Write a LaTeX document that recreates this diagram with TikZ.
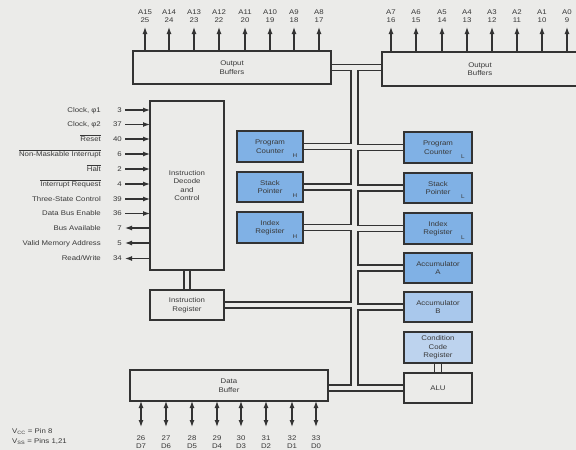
\documentclass[tikz,border=0pt]{standalone}
\usepackage{fontspec}
\newfontfamily\labfont{Liberation Sans}[FakeStretch=1.15]
\usetikzlibrary{arrows.meta,calc}
\definecolor{bg}{HTML}{EBEBE9}
\definecolor{ink}{HTML}{333333}
\definecolor{txt}{HTML}{383838}
\definecolor{regblue}{HTML}{80B1E5}
\definecolor{accb}{HTML}{A9C8EC}
\definecolor{ccrc}{HTML}{BDD3EE}
\newcommand\lf{\labfont\fontsize{6.8}{8.5}\selectfont}
\begin{document}
\begin{tikzpicture}[x=1pt,y=-1pt,
  box/.style={draw=ink, line width=1.3pt, inner sep=0pt, outer sep=0pt, align=center, font=\lf, text=txt, anchor=north west},
  reg/.style={box, fill=regblue},
  bus/.style={draw=ink, line width=1.2pt, line join=miter},
  sig/.style={font=\lf, text=txt, inner sep=0pt, anchor=base east},
  pinl/.style={font=\lf, text=txt, inner sep=0pt, anchor=east},
  pinlab/.style={font=\lf, text=txt, inner sep=0pt, align=center},
  sub/.style={font=\labfont\fontsize{5.5}{6}\selectfont, text=txt, inner sep=0pt},
  dirin/.style={draw=ink, line width=1.2pt, -{Latex[length=7pt,width=5pt]}},
  dirout/.style={draw=ink, line width=1.2pt, {Latex[length=7pt,width=5pt]}-},
  both/.style={draw=ink, line width=1.2pt, {Latex[length=7pt,width=5pt]}-{Latex[length=7pt,width=5pt]}}
]
\path[use as bounding box, fill=bg] (0,0) rectangle (576,450);
\clip (0,0) rectangle (576,450);

% main boxes
\node[box, minimum width=198, minimum height=33] (obl) at (133,51) {Output\\Buffers};
\node[box, minimum width=210, minimum height=34] (orb) at (382,52) {\hspace*{-14pt}Output\\\hspace*{-14pt}Buffers};
\node[box, minimum width=74, minimum height=169] (idc) at (150,101) {\fontsize{6.8}{7.8}\selectfont Instruction\\Decode\\and\\Control};
\node[box, minimum width=74, minimum height=30] (ir) at (150,290) {Instruction\\Register};
\node[box, minimum width=198, minimum height=31] (dbuf) at (130,370) {Data\\Buffer};

% registers
\node[reg, minimum width=66, minimum height=31] (pch) at (237,131) {Program\\Counter};
\node[reg, minimum width=66, minimum height=30] (sph) at (237,172) {Stack\\Pointer};
\node[reg, minimum width=66, minimum height=31] (ixh) at (237,212) {Index\\Register};
\node[reg, minimum width=68, minimum height=31] (pcl) at (404,132) {Program\\Counter};
\node[reg, minimum width=68, minimum height=30] (spl) at (404,173) {Stack\\Pointer};
\node[reg, minimum width=68, minimum height=31] (ixl) at (404,213) {Index\\Register};
\node[reg, minimum width=68, minimum height=30] (acca) at (404,253) {Accumulator\\A};
\node[box, fill=accb, minimum width=68, minimum height=30] (accb) at (404,292) {Accumulator\\B};
\node[box, fill=ccrc, minimum width=68, minimum height=31] (ccr) at (404,332) {\fontsize{6.8}{8}\selectfont Condition\\Code\\Register};
\node[box, minimum width=68, minimum height=30] (alu) at (404,373) {ALU};

\foreach \n in {pch,sph,ixh} {\node[sub] at ($(\n.south east)+(-8,-6)$) {H};}
\foreach \n in {pcl,spl,ixl} {\node[sub] at ($(\n.south east)+(-9,-6)$) {L};}

% bus
\coordinate (L) at (351,0);
\coordinate (R) at (358,0);
\foreach \n in {obl,pch,sph,ixh,ir} {
  \coordinate (\n-u) at ($(\n.east)+(0,-3)$);
  \coordinate (\n-d) at ($(\n.east)+(0,3)$);
}
\foreach \n in {pcl,spl,ixl,acca,accb,alu} {
  \coordinate (\n-u) at ($(\n.west)+(0,-3)$);
  \coordinate (\n-d) at ($(\n.west)+(0,3)$);
}
\coordinate (orb-u) at (orb.west |- obl-u);
\coordinate (orb-d) at (orb.west |- obl-d);
\draw[bus] (obl-u) -- (orb-u);
\foreach \a/\b in {obl/pch,pch/sph,sph/ixh,ixh/ir} {
  \draw[bus] (\a-d) -- (L |- \a-d) -- (L |- \b-u) -- (\b-u);
}
\draw[bus] (ir-d) -- (L |- ir-d) -- (L |- alu-u) -- (dbuf.east |- alu-u);
\foreach \a/\b in {orb/pcl,pcl/spl,spl/ixl,ixl/acca,acca/accb,accb/alu} {
  \draw[bus] (\a-d) -- (R |- \a-d) -- (R |- \b-u) -- (\b-u);
}
\draw[bus] (dbuf.east |- alu-d) -- (alu-d);
\draw[bus] ($(idc.south)+(-3,0)$) -- ($(ir.north)+(-3,0)$);
\draw[bus] ($(idc.south)+(3,0)$) -- ($(ir.north)+(3,0)$);
\draw[bus] ($(ccr.south)+(-3.5,0)$) -- ($(alu.north)+(-3.5,0)$);
\draw[bus] ($(ccr.south)+(3.5,0)$) -- ($(alu.north)+(3.5,0)$);

% address lines
\foreach \x/\a/\p [count=\i] in {145/A15/25,169/A14/24,194/A13/23,219/A12/22,245/A11/20,270/A10/19,294/A9/18,319/A8/17} {
  \node[pinlab] (al\i) at (\x,16) {\a\\\p};
  \draw[dirin] (al\i |- obl.north) -- ($(al\i)+(0,11)$);
}
\foreach \x/\a/\p [count=\i] in {391/A7/16,416/A6/15,442/A5/14,467/A4/13,492/A3/12,517/A2/11,542/A1/10,567/A0/9} {
  \node[pinlab] (ar\i) at (\x,16) {\a\\\p};
  \draw[dirin] (ar\i |- orb.north) -- ($(ar\i)+(0,11)$);
}

% data lines
\foreach \x/\p/\d [count=\i] in {141/26/D7,166/27/D6,192/28/D5,217/29/D4,241/30/D3,266/31/D2,292/32/D1,316/33/D0} {
  \node[pinlab] (dl\i) at (\x,442) {\p\\\d};
  \draw[both] (dl\i |- dbuf.south) -- ($(dl\i)+(0,-15)$);
}

% control signals
\foreach \y/\t/\p/\io [count=\i] in {
  110/{Clock, φ1}/3/in,
  124.5/{Clock, φ2}/37/in,
  139/{$\overline{\mbox{Reset}}$}/40/in,
  154/{$\overline{\mbox{Non-Maskable Interrupt}}$}/6/in,
  169/{$\overline{\mbox{Halt}}$}/2/in,
  184/{$\overline{\mbox{Interrupt Request}}$}/4/in,
  199/{Three-State Control}/39/in,
  213.5/{Data Bus Enable}/36/in,
  228/{Bus Available}/7/out,
  243/{Valid Memory Address}/5/out,
  258.5/{Read/Write}/34/out} {
  \node[pinl] (pin\i) at (122,\y) {\p};
  \node[sig] (sig\i) at ($(pin\i.base east)+(-21,0)$) {\t};
  \draw[dir\io] ($(pin\i.east)+(3,0)$) -- (pin\i -| idc.west);
}

% supply note
\node[font=\lf, text=txt, inner sep=0pt, anchor=west] (vcc) at (12,432) {V\textsubscript{CC} = Pin 8};
\node[font=\lf, text=txt, inner sep=0pt, anchor=west] (vss) at (12,442) {V\textsubscript{SS} = Pins 1,21};
\end{tikzpicture}
\end{document}
